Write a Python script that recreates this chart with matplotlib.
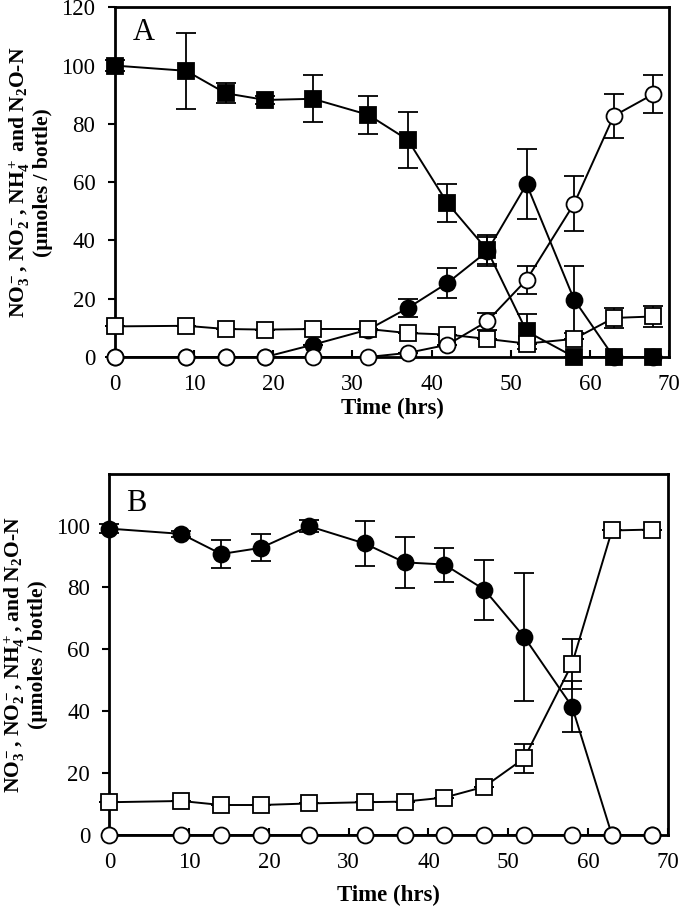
import matplotlib
matplotlib.use("Agg")
import matplotlib.pyplot as plt
from matplotlib import rcParams

rcParams.update({
    "font.family": "serif",
    "font.serif": ["Liberation Serif", "DejaVu Serif"],
    "mathtext.fontset": "custom",
    "mathtext.rm": "Liberation Serif:bold",
    "mathtext.bf": "Liberation Serif:bold",
    "mathtext.it": "Liberation Serif:bold",
    "font.size": 16,
})

# ---- data ----
time = [0, 9, 14, 19, 25, 32, 37, 42, 47, 52, 58, 63, 68]

# panel A
a_no3 = [100, 98.2, 90.5, 88.2, 88.6, 83.1, 74.5, 52.8, 36.8, 8.8, 0, 0, 0]
a_no3_err = [2, 13, 3.5, 1.5, 8, 6.5, 9.6, 6.5, 5, 6, 0, 0, 0]
a_no2 = [0, 0, 0, 0, 4.2, 9.4, 16.8, 25.4, 36.2, 59.3, 19.7, 0, 0]
a_no2_err = [0, 0, 0, 0, 0, 0, 3, 5, 5, 12, 11.6, 0, 0]
a_nh4 = [10.5, 10.7, 9.6, 9.4, 9.6, 9.6, 8.2, 7.7, 6.2, 4.6, 6.2, 13.4, 13.9]
a_nh4_err = [0, 0, 0, 0, 0, 0, 0, 0, 0, 0, 0, 3.4, 3.5]
a_n2o = [0, 0, 0, 0, 0, 0, 1.4, 4.2, 12.2, 26.5, 52.6, 82.7, 90.2]
a_n2o_err = [0, 0, 0, 0, 0, 0, 0, 0, 3, 4.8, 9.4, 7.6, 6.4]

# panel B
b_no2 = [99, 97.3, 90.8, 92.8, 99.8, 94.2, 88.1, 87.4, 79.3, 64, 41.5, 0, 0]
b_no2_err = [1.5, 1, 4.5, 4.4, 2, 7.2, 8.3, 5.5, 9.7, 20.7, 8.2, 0, 0]
b_nh4 = [10.6, 11, 9.7, 9.7, 10.2, 10.6, 10.8, 12.1, 15.6, 24.8, 55.3, 98.4, 98.7]
b_nh4_err = [0, 0, 0, 0, 0, 0, 0, 0, 0, 4.6, 8, 0, 0]
b_n2o = [0] * 13

ylab_a = "NO$_3^-$, NO$_2^-$, NH$_4^+$ and N$_2$O-N\n(µmoles / bottle)"
ylab_b = "NO$_3^-$, NO$_2^-$, NH$_4^+$, and N$_2$O-N\n(µmoles / bottle)"


def series(ax, y, err, marker, face, z):
    ax.errorbar(time, y, yerr=err, color="black", marker=marker, ms=11.5,
                mfc=face, mec="black", mew=1.3, lw=1.4, elinewidth=1.3,
                capsize=7, capthick=1.3, zorder=z, clip_on=False)


def style(ax, ymax, ylabel, tag, tagpos, xpad):
    ax.set_xlim(0, 70)
    ax.set_ylim(0, ymax)
    ax.set_xticks(range(0, 71, 10))
    ax.set_yticks(range(0, 121 if ymax >= 120 else 101, 20))
    for s in ax.spines.values():
        s.set_linewidth(2)
    ax.tick_params(axis="y", direction="out", length=5, width=1.5, labelsize=16.5, pad=9)
    ax.tick_params(axis="x", direction="in", length=5, width=1.5, labelsize=16.5, pad=12)
    ax.set_xlabel("Time (hrs)", fontsize=16.5, fontweight="bold", labelpad=xpad)
    ax.set_ylabel(ylabel, fontsize=15.5, fontweight="bold", labelpad=6, linespacing=1.05)
    ax.text(tagpos[0], tagpos[1], tag, fontsize=22, transform=ax.transAxes,
            ha="center", va="center")


fig = plt.figure(figsize=(6.8, 9.13), dpi=100)
axA = fig.add_axes([0.169, 0.609, 0.815, 0.383])
axB = fig.add_axes([0.161, 0.0854, 0.821, 0.3956])

series(axA, a_no2, a_no2_err, "o", "black", 3)
series(axA, a_no3, a_no3_err, "s", "black", 4)
series(axA, a_nh4, a_nh4_err, "s", "white", 5)
series(axA, a_n2o, a_n2o_err, "o", "white", 6)
style(axA, 120, ylab_a, "A", (0.052, 0.927), 2.5)

series(axB, b_no2, b_no2_err, "o", "black", 4)
series(axB, b_nh4, b_nh4_err, "s", "white", 5)
series(axB, b_n2o, None, "o", "white", 6)
style(axB, 116.7, ylab_b, "B", (0.048, 0.917), 9)

fig.savefig("out.png", dpi=100)
